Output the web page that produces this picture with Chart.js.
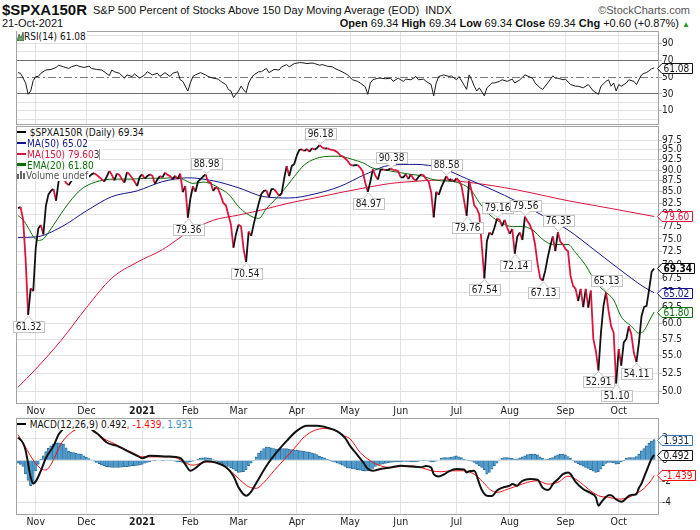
<!DOCTYPE html>
<html>
<head>
<meta charset="utf-8">
<script src="https://cdn.jsdelivr.net/npm/chart.js@4.4.0/dist/chart.umd.min.js"></script>
<style>
  body { margin: 0; width: 700px; height: 530px; overflow: hidden; background: #fff; position: relative;
         font-family: 'DejaVu Sans Condensed', 'DejaVu Sans', sans-serif; color: #111; }
  .abs { position: absolute; white-space: nowrap; }
  .wrap { position: absolute; left: 0; width: 700px; }
  .lg { position: absolute; left: 17px; background: #fff; font-size: 10px; line-height: 11px;
        white-space: nowrap; padding-right: 1px; }
  .dash { display: inline-block; width: 9px; height: 2.5px; vertical-align: middle; margin-right: 1px;
          position: relative; top: -1px; }
  .hd { font-family: 'Liberation Sans', Arial, sans-serif; }
</style>
</head>
<body>

<div class="abs hd" style="left:2px;top:1px;font-size:15px;font-weight:bold;">$SPXA150R</div>
<div class="abs hd" style="left:93px;top:4px;font-size:11px;">S&amp;P 500 Percent of Stocks Above 150 Day Moving Average (EOD)&nbsp; INDX</div>
<div class="abs hd" style="right:10px;top:4px;font-size:11px;color:#555;">&copy;StockCharts.com</div>
<div class="abs hd" style="left:2px;top:17px;font-size:11px;">21-Oct-2021</div>
<div class="abs hd" style="right:10px;top:17px;font-size:11px;"><b>Open</b> 69.34 <b>High</b> 69.34 <b>Low</b> 69.34 <b>Close</b> 69.34 <b>Chg</b> +0.60 (+0.87%) <span style="color:#1e9a1e;font-size:8px;">&#9650;</span></div>

<div class="wrap" style="top:25px;height:105px"><canvas id="rsiChart"></canvas></div>
<div class="wrap" style="top:120px;height:305px"><canvas id="mainChart"></canvas></div>
<div class="wrap" style="top:412px;height:118px"><canvas id="macdChart"></canvas></div>

<!-- panel legends -->
<div class="lg" style="top:31px;">
  <svg width="7" height="9" style="vertical-align:-1px"><polygon points="0,9 2,2 4,6 6,0 7,9" fill="#6d9d6d" stroke="#2f552f" stroke-width="0.7"/></svg>RSI(14) 61.08
</div>

<div class="lg" style="top:127px;"><span class="dash" style="background:#000"></span> $SPXA150R (Daily) 69.34</div>
<div class="lg" style="top:138px;color:#14148c;"><span class="dash" style="background:#14148c"></span>MA(50) 65.02</div>
<div class="lg" style="top:149px;color:#dc143c;"><span class="dash" style="background:#dc143c"></span>MA(150) 79.60<span style="color:#333;border-right:1px solid #999;">3</span></div>
<div class="lg" style="top:159.5px;color:#0a6e0a;"><span class="dash" style="background:#0a6e0a"></span>EMA(20) 61.80</div>
<div class="lg" style="top:170px;color:#555;">
  <svg width="9" height="8" style="vertical-align:0px"><rect x="0" y="3" width="2" height="5" fill="#666"/><rect x="3" y="0" width="2" height="8" fill="#666"/><rect x="6" y="2" width="2" height="6" fill="#666"/></svg>Volume undef
</div>

<div class="lg" style="top:419px;"><span class="dash" style="background:#000"></span> MACD(12,26,9) 0.492<span style="color:#f01010">, -1.439</span><span style="color:#3a8fc4">, 1.931</span></div>

<script>
/* =========================
   DATA (trading-day index: 0 = 2 Nov 2020)
   ========================= */
const firstDay = -7;

// daily close, 22 Oct 2020 .. 21 Oct 2021
const price = [
  81.4, 81.6, 79.0, 71.0, 61.32, 65.8, 65.3, 73.3, 77.1, 77.8,
  75.9, 81.9, 84.4, 85.2, 85.6, 83.0, 87.3, 88.9, 88.2, 87.0,
  86.5, 87.4, 88.5, 89.3, 88.6, 89.5, 88.8, 89.6, 88.4, 89.0,
  89.3, 88.9, 88.4, 87.9, 87.3, 88.5, 89.8, 88.9, 87.6, 89.2,
  88.9, 87.8, 87.1, 89.5, 89.0, 88.2, 87.3, 86.3, 88.4, 89.0,
  88.0, 88.6, 89.0, 88.7, 86.8, 87.8, 88.6, 88.3, 89.4, 88.9,
  88.6, 87.9, 88.7, 87.9, 89.2, 84.9, 86.3, 79.36, 83.5, 86.2,
  85.0, 87.3, 87.9, 88.5, 88.98, 87.3, 87.1, 85.2, 86.0, 85.6,
  84.1, 82.5, 82.0, 79.9, 77.9, 73.3, 76.0, 77.9, 77.5, 73.0,
  70.54, 76.5, 75.6, 78.0, 80.3, 82.5, 84.5, 85.2, 85.3, 83.8,
  85.6, 85.6, 84.9, 84.1, 84.6, 88.0, 91.0, 88.6, 91.0, 91.5,
  93.6, 95.0, 95.1, 94.7, 95.2, 94.5, 95.4, 95.0, 95.5, 96.18,
  95.6, 95.3, 95.4, 95.1, 95.0, 94.8, 94.4, 93.7, 93.4, 92.9,
  92.3, 91.4, 91.1, 91.2, 91.2, 90.6, 89.7, 87.1, 84.97, 87.3,
  90.2, 88.7, 87.8, 90.1, 90.2, 90.0, 90.1, 90.38, 90.1, 90.0,
  89.8, 88.3, 88.3, 89.0, 87.9, 89.0, 88.0, 87.6, 88.4, 89.0,
  88.8, 87.9, 87.4, 84.9, 79.4, 85.0, 84.3, 86.0, 87.3, 88.58,
  87.6, 87.9, 87.3, 88.1, 87.5, 86.3, 83.0, 79.76, 87.5, 85.0,
  82.0, 81.3, 80.0, 73.5, 67.54, 74.6, 76.3, 75.8, 77.3, 79.16,
  78.9, 77.6, 78.9, 77.3, 76.0, 77.0, 72.14, 75.5, 76.3, 74.8,
  79.56, 78.6, 77.8, 76.5, 73.9, 70.2, 67.6, 67.13, 68.9, 71.4,
  73.6, 75.5, 72.6, 76.35, 74.4, 73.9, 73.0, 72.6, 68.0, 66.2,
  65.7, 63.6, 65.7, 62.6, 65.7, 62.5, 65.4, 57.5, 55.7, 52.91,
  58.5, 62.8, 65.13, 62.0, 59.5, 58.5, 51.10, 56.0, 53.6, 57.0,
  57.5, 59.5, 58.2, 55.4, 54.11, 57.0, 61.1, 62.6, 62.8, 65.6,
  68.74, 69.34
];

// moving averages read at sample days
const maDays = [-7, 0, 10, 20, 30, 40, 50, 60, 70, 80, 90, 100, 110, 120, 130, 140, 150, 160, 170, 180, 190, 200, 210, 220, 230, 240, 244];
const ma50 = [75.3, 75.4, 77.4, 80.8, 83.9, 85.2, 87.3, 88.2, 87.5, 85.9, 83.9, 83.6, 84.5, 86.2, 89.0, 91.2, 91.4, 90.5, 88.0, 85.5, 82.8, 79.8, 76.8, 73.0, 69.3, 66.0, 65.02];
const ma150 = [50.6, 53.1, 57.3, 62.5, 67.6, 70.5, 72.9, 76.3, 78.8, 79.9, 81.1, 82.5, 83.6, 84.8, 85.9, 86.9, 87.4, 87.7, 87.2, 86.4, 85.4, 84.2, 83.0, 82.0, 81.0, 80.0, 79.60];

const emaDays = [-7, -5, -3, -1, 1, 3, 5, 7, 10, 13, 16, 19, 23, 27, 31, 38, 44, 51, 56, 59, 62, 66, 70, 73,
  76, 80, 83, 86, 88, 91, 94, 98, 102, 106, 110, 114, 118, 121, 125, 129, 133, 137, 140, 144, 148, 152, 156, 160,
  165, 170, 172, 175, 179, 184, 188, 192, 196, 200, 204, 208, 210, 213, 217, 221, 225, 228, 231, 235, 238, 240, 242, 244];
const ema20 = [79.8, 78.9, 77.3, 75.5, 74.7, 75.0, 76.3, 77.8, 80.2, 82.5, 84.5, 86.0, 87.1, 87.7, 87.9, 87.9, 88.1, 88.1, 88.3, 87.6, 86.9, 87.2, 86.6, 85.6,
  84.5, 81.7, 80.3, 79.4, 79.2, 81.3, 83.0, 85.5, 88.5, 91.3, 92.7, 93.3, 93.4, 93.3, 92.6, 91.8, 90.5, 90.2, 89.8, 89.4, 89.0, 88.7, 87.9, 87.5,
  87.3, 86.2, 85.2, 82.6, 80.0, 78.2, 77.5, 77.5, 76.8, 74.9, 73.9, 73.9, 73.9, 72.3, 69.9, 66.8, 65.1, 63.8, 61.0, 59.5, 58.4, 58.8, 60.3, 61.8];

// labelled swing points (day index)
const peakDays = [67, 112, 140, 162, 182, 193, 206, 225];
const troughDays = [-3, 60, 83, 131, 170, 177, 189, 200, 222, 229, 237];

// RSI(14)
const rsiDays = [-7, -6, -4, -3, -2, -1, 0, 1, 2, 4, 6, 8, 9, 11, 13, 14, 16, 17, 19, 21, 22, 24, 26, 27, 29, 30, 31, 33, 35, 36, 38, 39,
  41, 43, 44, 46, 48, 49, 51, 53, 54, 56, 57, 58, 60, 61, 62, 63, 65, 67, 68, 70, 72, 73, 75, 76, 77, 78, 80, 81, 82, 83,
  84, 85, 86, 88, 89, 91, 92, 94, 96, 97, 99, 100, 102, 104, 105, 107, 109, 110, 112, 113, 115, 117, 118, 120, 122, 123, 125, 127, 128, 130,
  131, 132, 133, 135, 136, 138, 140, 141, 143, 145, 146, 148, 150, 151, 153, 154, 156, 157, 158, 159, 161, 163, 164, 166, 167, 170,
  171, 172, 173, 174, 175, 177, 178, 180, 181, 183, 184, 186, 188, 189, 191, 193, 196, 197, 199, 200, 202, 204, 205, 206, 208, 209,
  211, 213, 214, 216, 218, 220, 222, 223, 225, 226, 227, 228, 229, 230, 231, 233, 234, 236, 237, 239, 240, 241, 242, 243, 244];
const rsiVals = [55.4, 54.6, 43.1, 29.6, 33.5, 46.0, 50.8, 50.8, 54.6, 58.5, 59.2, 61.5, 64.2, 62.3, 60.4, 62.3, 64.2, 63.1, 61.5, 63.1, 60.4, 59.2, 58.5, 56.5, 51.9, 58.5, 56.5, 54.6, 48.8, 52.7, 50.8, 53.8,
  48.8, 52.7, 56.5, 52.7, 54.6, 50.8, 55.4, 50.8, 54.6, 56.5, 46.9, 45.0, 33.5, 43.1, 50.8, 52.7, 55.4, 52.7, 50.8, 48.8, 47.7, 45.0, 41.2, 35.4, 33.5, 25.8, 33.5, 39.2, 35.0, 31.5,
  43.1, 48.8, 52.7, 56.5, 56.5, 60.4, 55.4, 59.2, 58.5, 62.3, 65.0, 62.3, 66.2, 67.3, 67.3, 66.2, 66.9, 66.2, 64.2, 65.0, 63.1, 62.3, 60.4, 57.7, 54.6, 52.7, 46.9, 45.0, 43.1, 38.5,
  29.6, 43.1, 46.9, 48.8, 48.8, 48.1, 48.8, 45.0, 48.8, 45.0, 47.7, 46.9, 50.8, 46.9, 47.7, 45.0, 41.2, 27.7, 43.1, 50.8, 52.7, 50.8, 51.5, 46.9, 50.8, 35.4,
  52.7, 46.9, 39.2, 33.5, 37.3, 27.7, 37.3, 43.1, 43.1, 45.0, 46.9, 45.0, 47.7, 43.1, 46.9, 52.7, 48.8, 43.1, 37.3, 35.4, 43.1, 51.5, 48.8, 48.8, 46.9, 47.7,
  41.2, 39.2, 39.2, 37.3, 41.2, 33.5, 29.6, 39.2, 45.0, 46.9, 39.2, 43.1, 33.5, 41.2, 39.2, 43.1, 46.9, 45.0, 41.2, 52.7, 54.6, 55.5, 57.7, 60.0, 61.08];

// MACD(12,26,9)
const macdDays = [-7, -5, -4, -2, -1, 0, 2, 4, 7, 9, 11, 13, 15, 17, 19, 21, 22, 25, 28, 32, 36, 40, 42, 45, 52, 57, 59, 61, 63, 67, 71, 75,
  78, 80, 83, 85, 87, 91, 95, 99, 103, 107, 111, 115, 119, 122, 124, 127, 129, 131, 133, 136, 140, 144, 148, 152, 154, 156, 157, 159, 161, 163,
  166, 169, 170, 171, 173, 175, 176, 178, 180, 182, 184, 187, 188, 190, 191, 192, 195, 198, 200, 202, 203, 204, 206, 208, 210, 211, 213, 216, 219, 221,
  222, 223, 225, 226, 227, 229, 231, 232, 234, 236, 237, 238, 239, 240, 241, 242, 243, 244];
const macdLine = [2.13, 1.6, 0.9, -1.6, -2.2, -2.0, -1.0, 0.2, 1.34, 2.4, 3.0, 3.5, 3.8, 3.8, 3.6, 3.2, 2.91, 2.35, 1.66, 1.34, 0.88, 0.41, 0.18, 0.41, 0.34, 0.2, -0.4, -1.0, -0.75, -0.1, -0.22, -0.65,
  -1.5, -2.56, -3.34, -2.95, -2.15, -0.55, 0.72, 1.81, 2.75, 3.22, 3.22, 3.05, 2.7, 2.1, 1.34, 0.45, -0.15, -0.8, -1.0, -0.84, -0.69, -0.53, -0.59, -0.66, -0.55, -0.7, -1.3, -1.53, -1.35, -1.05,
  -0.84, -0.88, -1.16, -1.05, -1.0, -2.2, -2.8, -3.34, -3.36, -2.85, -2.6, -2.4, -2.25, -2.4, -2.16, -1.96, -1.78, -1.85, -2.6, -2.8, -2.65, -2.25, -1.8, -1.32, -1.16, -1.3, -2.05, -2.72, -3.1, -3.5,
  -4.28, -4.0, -3.45, -3.3, -3.3, -3.7, -3.9, -3.8, -3.35, -3.25, -3.19, -2.6, -2.2, -1.6, -1.0, -0.4, 0.15, 0.492];

const signalDays = [-7, -4, -1, 2, 4, 6, 8, 10, 14, 17, 20, 23, 27, 31, 35, 39, 42, 46, 52, 56, 58, 62, 65, 68,
  73, 77, 81, 84, 87, 90, 94, 98, 102, 106, 110, 114, 118, 121, 124, 128, 132, 136, 140, 144, 148, 152, 156, 160,
  164, 168, 171, 174, 177, 179, 182, 186, 190, 194, 198, 202, 206, 210, 214, 218, 222, 226, 230, 234, 237, 239, 241, 243, 244];
const signalLine = [2.4, 1.2, 0.0, -0.8, -0.93, -0.4, 0.55, 1.55, 2.6, 2.97, 3.1, 2.75, 2.0, 1.55, 1.05, 0.6, 0.31, 0.31, 0.31, 0.16, -0.12, -0.47, -0.31, -0.16,
  -0.35, -1.05, -1.95, -2.5, -2.65, -2.1, -1.0, 0.05, 1.1, 2.2, 2.8, 2.97, 2.8, 2.35, 2.0, 0.72, -0.06, -0.53, -0.69, -0.59, -0.53, -0.69, -1.0, -1.09,
  -1.0, -1.0, -1.09, -1.5, -2.2, -2.72, -3.03, -2.75, -2.41, -2.09, -1.94, -2.25, -2.09, -1.5, -1.94, -2.72, -3.34, -3.5, -3.66, -3.5, -3.12, -2.85, -2.42, -1.83, -1.439];

// daily histogram bars, same days as price
const histogram = [
  -0.28, -0.4, -0.6, -1.3, -1.9, -2.4, -2.25, -1.0, -0.4, 0.1,
  0.4, 0.8, 1.1, 1.35, 1.5, 1.6, 1.62, 1.6, 1.5, 1.15,
  0.85, 0.75, 0.72, 0.65, 0.6, 0.56, 0.4, 0.28, 0.15, 0.03,
  -0.1, -0.22, -0.34, -0.44, -0.53, -0.62, -0.66, -0.69, -0.69, -0.69,
  -0.69, -0.66, -0.62, -0.62, -0.6, -0.53, -0.53, -0.5, -0.47, -0.4,
  -0.28, -0.22, -0.16, -0.06, -0.03, 0, 0, -0.03, -0.06, -0.06,
  -0.06, -0.06, -0.1, -0.16, -0.16, -0.22, -0.28, -0.22, -0.16, -0.1,
  0, 0.1, 0.19, 0.22, 0.25, 0.22, 0.16, 0.06, -0.03, -0.16,
  -0.25, -0.37, -0.5, -0.6, -0.72, -0.84, -1.0, -1.16, -1.12, -1.09,
  -0.9, -0.53, -0.28, -0.06, 0.31, 0.66, 0.88, 1.09, 1.25, 1.22,
  1.16, 1.09, 1.03, 1.06, 1.09, 1.09, 1.09, 1.03, 1.0, 0.97,
  0.94, 0.9, 0.88, 0.84, 0.78, 0.75, 0.69, 0.62, 0.53, 0.38,
  0.28, 0.22, 0.1, -0.03, -0.12, -0.19, -0.28, -0.37, -0.47, -0.6,
  -0.72, -0.76, -0.8, -0.85, -0.9, -0.94, -1.0, -1.03, -1.0, -0.97,
  -0.78, -0.6, -0.47, -0.4, -0.38, -0.31, -0.25, -0.22, -0.19, -0.16,
  -0.16, -0.16, -0.12, -0.12, -0.12, -0.16, -0.16, -0.16, -0.12, -0.06,
  -0.03, -0.06, -0.1, -0.16, -0.16, -0.1, 0, 0.16, 0.25, 0.25,
  0.25, 0.28, 0.34, 0.41, 0.31, 0.25, 0.1, 0.03, -0.03, -0.1,
  -0.22, -0.38, -0.53, -0.69, -0.9, -1.31, -1.16, -0.84, -0.53, -0.28,
  0.03, 0.19, 0.25, 0.25, 0.22, 0.16, 0.1, 0.12, 0.22, 0.31,
  0.41, 0.53, 0.56, 0.56, 0.56, 0.5, 0.31, 0.16, 0.06, 0.1,
  0.16, 0.25, 0.41, 0.5, 0.56, 0.56, 0.5, 0.34, 0.19, -0.06,
  -0.22, -0.34, -0.47, -0.56, -0.69, -0.78, -0.9, -1.03, -1.16, -1.09,
  -0.84, -0.53, -0.31, -0.22, -0.22, -0.25, -0.38, -0.34, -0.16, -0.03,
  0.16, 0.25, 0.25, 0.25, 0.34, 0.56, 0.88, 1.09, 1.34, 1.59,
  1.78, 1.931
];

// axes
const monthDays = [0, 20, 42, 61, 80, 103, 124, 144, 166, 187, 209, 230];
const monthLabels = ["Nov", "Dec", "2021", "Feb", "Mar", "Apr", "May", "Jun", "Jul", "Aug", "Sep", "Oct"];
const priceTicks = [50, 52.5, 55, 57.5, 60, 62.5, 65, 67.5, 70, 72.5, 75, 77.5, 80, 82.5, 85, 87.5, 90, 92.5, 95, 97.5];
const rsiGrid = [0, 10, 20, 30, 40, 50, 60, 70, 80, 90, 100];
const rsiLabels = [10, 30, 50, 70, 90];
const macdTicks = [-4, -2, 0, 2];

/* =========================
   STYLE
   ========================= */
const FONT = "'DejaVu Sans Condensed', 'DejaVu Sans', sans-serif";
const CRIMSON = "#dc143c";
const NAVY = "#14148c";
const GREEN = "#0a6e0a";
const GRID = "#e2e2e2";
const X_MIN = -7.8, X_MAX = 245.9;

const daily = (vals) => vals.map((v, k) => ({ x: firstDay + k, y: v }));
const paired = (days, vals) => days.map((d, k) => ({ x: d, y: vals[k] }));
const valueAt = (day) => price[day - firstDay];

function xAxis(showLabels, axisHeight) {
  return {
    type: "linear", min: X_MIN, max: X_MAX, offset: false,
    afterBuildTicks: (s) => { s.ticks = monthDays.map((v) => ({ value: v })); },
    afterFit: (s) => { s.height = axisHeight; },
    grid: { color: GRID, drawTicks: false, offset: false },
    border: { display: false },
    ticks: {
      display: showLabels, autoSkip: false, maxRotation: 0, padding: 2, color: "#222",
      font: (c) => ({ family: FONT, size: 10.5,
        weight: c.tick && monthLabels[monthDays.indexOf(c.tick.value)] === "2021" ? "bold" : "normal" }),
      callback: (v) => monthLabels[monthDays.indexOf(v)],
    },
  };
}

function yAxisBase() {
  return {
    position: "right",
    afterFit: (s) => { s.width = 41; },
    border: { display: false },
    grid: { color: GRID, tickLength: 3, tickColor: "#bbb" },
    ticks: { padding: 0, color: "#222", font: { family: FONT, size: 10 }, autoSkip: false },
  };
}

/* ---- plugins ---- */
const framePlugin = {
  id: "frame",
  afterDatasetsDraw(chart) {
    const a = chart.chartArea, ctx = chart.ctx;
    ctx.save();
    ctx.strokeStyle = "#a2a2a2";
    ctx.lineWidth = 1;
    ctx.strokeRect(Math.round(a.left) + 0.5, Math.round(a.top) + 0.5,
      Math.round(a.right) - Math.round(a.left) - 1, Math.round(a.bottom) - Math.round(a.top));
    ctx.restore();
  },
};

// value boxes with a left pointer on the right axis
function markerPlugin(items) {
  return {
    id: "markers",
    afterDraw(chart) {
      const ctx = chart.ctx, a = chart.chartArea, ys = chart.scales.y;
      items.forEach((m) => {
        const y = Math.round(ys.getPixelForValue(m.value)) + 0.5;
        const tip = a.right - 1.5;
        ctx.save();
        ctx.font = (m.bold ? "bold " : "") + "10px " + FONT;
        const w = ctx.measureText(m.text).width;
        const left = tip + 4.5, right = Math.round(left + w + 4) + 0.5;
        ctx.beginPath();
        ctx.moveTo(tip, y);
        ctx.lineTo(left, y - 5);
        ctx.lineTo(right, y - 5);
        ctx.lineTo(right, y + 5);
        ctx.lineTo(left, y + 5);
        ctx.closePath();
        ctx.fillStyle = "#fff";
        ctx.fill();
        ctx.strokeStyle = m.color;
        ctx.lineWidth = 1;
        ctx.stroke();
        ctx.fillStyle = m.textColor || m.color;
        ctx.textBaseline = "middle";
        ctx.textAlign = "left";
        ctx.fillText(m.text, left + 1.5, y + 0.5);
        ctx.restore();
      });
    },
  };
}

// swing labels on the price panel
const swingPlugin = {
  id: "swings",
  afterDatasetsDraw(chart) {
    const ctx = chart.ctx, xs = chart.scales.x, ys = chart.scales.y;
    const draw = (day, above) => {
      const v = valueAt(day);
      const text = v.toFixed(2);
      const px = Math.round(xs.getPixelForValue(day)) + 0.5;
      const py = ys.getPixelForValue(v);
      ctx.save();
      ctx.font = "10px " + FONT;
      const w = Math.round(ctx.measureText(text).width + 5), h = 11;
      const bx = Math.round(px - w / 2) + 0.5;
      const by = above ? Math.round(py - 6 - h) + 0.5 : Math.round(py + 6) + 0.5;
      const base = above ? by + h : by;
      ctx.fillStyle = "#fff";
      ctx.strokeStyle = "#c4c4c4";
      ctx.lineWidth = 1;
      ctx.beginPath();
      ctx.moveTo(px - 5, base);
      ctx.lineTo(px, above ? py - 1 : py + 1);
      ctx.lineTo(px + 5, base);
      ctx.closePath();
      ctx.fill();
      ctx.stroke();
      ctx.fillRect(bx, by, w, h);
      ctx.strokeRect(bx, by, w, h);
      ctx.fillRect(px - 4, base - 1, 8, 2);
      ctx.fillStyle = "#1a1a1a";
      ctx.textAlign = "center";
      ctx.textBaseline = "middle";
      ctx.fillText(text, px, by + h / 2 + 0.5);
      ctx.restore();
    };
    peakDays.forEach((d) => draw(d, true));
    troughDays.forEach((d) => draw(d, false));
  },
};

// dash-dot centre line of the RSI panel
const rsiMidPlugin = {
  id: "rsiMid",
  beforeDatasetsDraw(chart) {
    const ctx = chart.ctx, a = chart.chartArea;
    const y = Math.round(chart.scales.y.getPixelForValue(50)) + 0.5;
    ctx.save();
    ctx.strokeStyle = "#777";
    ctx.lineWidth = 1;
    ctx.setLineDash([8, 3, 2, 3]);
    ctx.beginPath();
    ctx.moveTo(a.left, y);
    ctx.lineTo(a.right, y);
    ctx.stroke();
    ctx.restore();
  },
};

const common = {
  responsive: true,
  maintainAspectRatio: false,
  animation: false,
  events: [],
  plugins: { legend: { display: false }, tooltip: { enabled: false } },
};

/* =========================
   RSI PANEL
   ========================= */
const rsiY = yAxisBase();
Object.assign(rsiY, {
  type: "linear", min: -5.8, max: 105,
  afterBuildTicks: (s) => { s.ticks = rsiGrid.map((v) => ({ value: v })); },
});
rsiY.grid = {
  tickLength: 3,
  tickColor: (c) => (rsiLabels.includes(c.tick.value) ? "#bbb" : "transparent"),
  color: (c) => {
    const v = c.tick.value;
    if (v === 70 || v === 30) return "#6e6e6e";
    if (v === 40 || v === 50 || v === 60) return "rgba(0,0,0,0)";
    return GRID;
  },
};
rsiY.ticks.callback = (v) => (rsiLabels.includes(v) ? String(v) : "");

new Chart(document.getElementById("rsiChart"), {
  type: "line",
  data: {
    datasets: [{
      data: paired(rsiDays, rsiVals),
      borderColor: "#1a1a1a", borderWidth: 1, pointRadius: 0, tension: 0,
    }],
  },
  options: Object.assign({}, common, {
    layout: { padding: { left: 16, right: 0, top: 5, bottom: 5 } },
    scales: { x: xAxis(false, 0), y: rsiY },
  }),
  plugins: [rsiMidPlugin, framePlugin,
    markerPlugin([{ value: 61.08, text: "61.08", color: "#111" }])],
});

/* =========================
   PRICE PANEL
   ========================= */
const mainY = yAxisBase();
Object.assign(mainY, {
  type: "logarithmic", min: 48.49, max: 101.2,
  afterBuildTicks: (s) => { s.ticks = priceTicks.map((v) => ({ value: v })); },
});
mainY.ticks.callback = (v) => Number(v).toFixed(1);

new Chart(document.getElementById("mainChart"), {
  type: "line",
  data: {
    datasets: [
      {
        data: daily(price),
        borderColor: "#111", borderWidth: 1.8, pointRadius: 0, tension: 0,
        borderJoinStyle: "round",
        segment: { borderColor: (c) => (c.p1.parsed.y < c.p0.parsed.y ? CRIMSON : "#111") },
      },
      { data: paired(emaDays, ema20), borderColor: GREEN, borderWidth: 1, pointRadius: 0, cubicInterpolationMode: "monotone" },
      { data: paired(maDays, ma50), borderColor: NAVY, borderWidth: 1, pointRadius: 0, cubicInterpolationMode: "monotone" },
      { data: paired(maDays, ma150), borderColor: CRIMSON, borderWidth: 1, pointRadius: 0, cubicInterpolationMode: "monotone" },
    ],
  },
  options: Object.assign({}, common, {
    layout: { padding: { left: 16, right: 0, top: 5, bottom: 0 } },
    scales: { x: xAxis(true, 21.7), y: mainY },
  }),
  plugins: [framePlugin, swingPlugin,
    markerPlugin([
      { value: 79.60, text: "79.60", color: CRIMSON },
      { value: 61.80, text: "61.80", color: GREEN },
      { value: 65.02, text: "65.02", color: NAVY },
      { value: 69.34, text: "69.34", color: "#000", bold: true },
    ])],
});

/* =========================
   MACD PANEL
   ========================= */
const macdY = yAxisBase();
Object.assign(macdY, {
  type: "linear", min: -5.09, max: 3.96,
  afterBuildTicks: (s) => { s.ticks = macdTicks.map((v) => ({ value: v })); },
});
macdY.ticks.callback = (v) => String(v);

new Chart(document.getElementById("macdChart"), {
  type: "line",
  data: {
    datasets: [
      { data: paired(macdDays, macdLine), borderColor: "#111", borderWidth: 2, pointRadius: 0, cubicInterpolationMode: "monotone" },
      { data: paired(signalDays, signalLine), borderColor: "#f01010", borderWidth: 1, pointRadius: 0, cubicInterpolationMode: "monotone" },
      {
        type: "bar", data: daily(histogram),
        backgroundColor: "#4f9ccc", borderColor: "#2a6b98",
        borderWidth: { left: 0.7, right: 0, top: 1, bottom: 1 }, borderSkipped: "start",
        barPercentage: 1, categoryPercentage: 1,
      },
    ],
  },
  options: Object.assign({}, common, {
    layout: { padding: { left: 16, right: 0, top: 5.7, bottom: 0 } },
    scales: { x: xAxis(true, 15.7), y: macdY },
  }),
  plugins: [framePlugin,
    markerPlugin([
      { value: -1.439, text: "-1.439", color: "#f01010" },
      { value: 0.492, text: "0.492", color: "#111" },
      { value: 1.931, text: "1.931", color: "#3a78b8", textColor: "#1a2a40" },
    ])],
});
</script>
</body>
</html>
